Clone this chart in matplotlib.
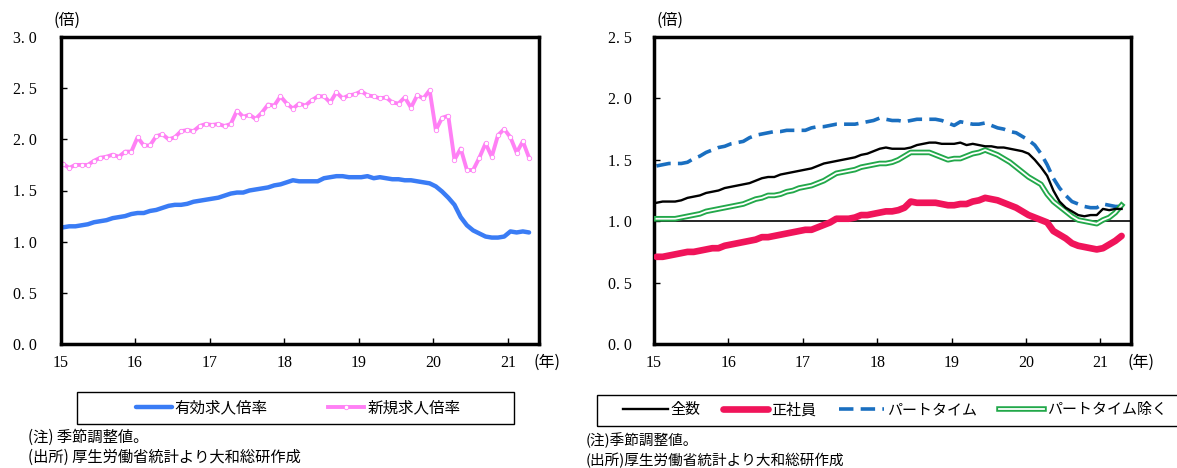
import numpy as np
import pandas as pd
import matplotlib
matplotlib.use('Agg')
import matplotlib.pyplot as plt
import matplotlib.patheffects as pe
from matplotlib.patches import Rectangle

# 月次データ 2015年1月～2021年4月 (季節調整値)
months = pd.date_range('2015-01-01', periods=76, freq='MS')

yuko = [1.14, 1.15, 1.15, 1.16, 1.17, 1.19, 1.20, 1.21, 1.23, 1.24, 1.25, 1.27,
        1.28, 1.28, 1.30, 1.31, 1.33, 1.35, 1.36, 1.36, 1.37, 1.39, 1.40, 1.41,
        1.42, 1.43, 1.45, 1.47, 1.48, 1.48, 1.50, 1.51, 1.52, 1.53, 1.55, 1.56,
        1.58, 1.60, 1.59, 1.59, 1.59, 1.59, 1.62, 1.63, 1.64, 1.64, 1.63, 1.63,
        1.63, 1.64, 1.62, 1.63, 1.62, 1.61, 1.61, 1.60, 1.60, 1.59, 1.58, 1.57,
        1.54, 1.49, 1.43, 1.36, 1.24, 1.16, 1.11, 1.08, 1.05, 1.04, 1.04, 1.05,
        1.10, 1.09, 1.10, 1.09]

shinki = [1.76, 1.72, 1.75, 1.75, 1.75, 1.79, 1.82, 1.83, 1.85, 1.83, 1.88, 1.88,
          2.02, 1.94, 1.94, 2.03, 2.05, 2.00, 2.02, 2.08, 2.09, 2.08, 2.13, 2.15,
          2.14, 2.15, 2.13, 2.15, 2.28, 2.22, 2.24, 2.20, 2.26, 2.34, 2.33, 2.42,
          2.35, 2.30, 2.35, 2.33, 2.38, 2.42, 2.42, 2.36, 2.46, 2.40, 2.43, 2.44,
          2.47, 2.43, 2.42, 2.40, 2.41, 2.36, 2.35, 2.41, 2.31, 2.43, 2.40, 2.48,
          2.09, 2.21, 2.23, 1.80, 1.91, 1.70, 1.70, 1.82, 1.96, 1.83, 2.04, 2.10,
          2.02, 1.87, 1.98, 1.82]

zensu = [1.15, 1.16, 1.16, 1.16, 1.17, 1.19, 1.20, 1.21, 1.23, 1.24, 1.25, 1.27,
         1.28, 1.29, 1.30, 1.31, 1.33, 1.35, 1.36, 1.36, 1.38, 1.39, 1.40, 1.41,
         1.42, 1.43, 1.45, 1.47, 1.48, 1.49, 1.50, 1.51, 1.52, 1.54, 1.55, 1.57,
         1.59, 1.60, 1.59, 1.59, 1.59, 1.60, 1.62, 1.63, 1.64, 1.64, 1.63, 1.63,
         1.63, 1.64, 1.62, 1.63, 1.62, 1.61, 1.61, 1.60, 1.60, 1.59, 1.58, 1.57,
         1.55, 1.50, 1.44, 1.37, 1.25, 1.16, 1.11, 1.08, 1.05, 1.04, 1.05, 1.05,
         1.10, 1.09, 1.10, 1.10]

seishain = [0.71, 0.71, 0.72, 0.73, 0.74, 0.75, 0.75, 0.76, 0.77, 0.78, 0.78, 0.80,
            0.81, 0.82, 0.83, 0.84, 0.85, 0.87, 0.87, 0.88, 0.89, 0.90, 0.91, 0.92,
            0.93, 0.93, 0.95, 0.97, 0.99, 1.02, 1.02, 1.02, 1.03, 1.05, 1.05, 1.06,
            1.07, 1.08, 1.08, 1.09, 1.11, 1.16, 1.15, 1.15, 1.15, 1.15, 1.14, 1.13,
            1.13, 1.14, 1.14, 1.16, 1.17, 1.19, 1.18, 1.17, 1.15, 1.13, 1.11, 1.08,
            1.05, 1.03, 1.01, 0.99, 0.92, 0.89, 0.86, 0.82, 0.80, 0.79, 0.78, 0.77,
            0.78, 0.81, 0.84, 0.88]

part = [1.45, 1.46, 1.47, 1.47, 1.47, 1.48, 1.51, 1.53, 1.56, 1.58, 1.60, 1.61,
        1.63, 1.64, 1.65, 1.68, 1.70, 1.71, 1.72, 1.73, 1.73, 1.74, 1.74, 1.74,
        1.74, 1.76, 1.77, 1.77, 1.78, 1.79, 1.79, 1.79, 1.79, 1.80, 1.81, 1.82,
        1.84, 1.83, 1.82, 1.82, 1.81, 1.82, 1.83, 1.83, 1.83, 1.83, 1.82, 1.80,
        1.78, 1.81, 1.80, 1.79, 1.79, 1.80, 1.78, 1.76, 1.75, 1.73, 1.72, 1.69,
        1.66, 1.62, 1.55, 1.46, 1.35, 1.27, 1.21, 1.16, 1.14, 1.12, 1.11, 1.11,
        1.14, 1.13, 1.12, 1.12]

part_nozoku = [1.02, 1.02, 1.02, 1.02, 1.03, 1.04, 1.05, 1.06, 1.08, 1.09, 1.10, 1.11,
               1.12, 1.13, 1.14, 1.16, 1.18, 1.19, 1.21, 1.21, 1.22, 1.24, 1.25, 1.27,
               1.28, 1.29, 1.31, 1.33, 1.36, 1.39, 1.40, 1.41, 1.42, 1.44, 1.45, 1.46,
               1.47, 1.47, 1.48, 1.50, 1.53, 1.56, 1.56, 1.56, 1.56, 1.54, 1.52, 1.50,
               1.51, 1.51, 1.53, 1.55, 1.56, 1.58, 1.56, 1.54, 1.51, 1.48, 1.44, 1.40,
               1.36, 1.33, 1.30, 1.22, 1.16, 1.12, 1.08, 1.04, 1.01, 1.00, 0.99, 0.98,
               1.01, 1.03, 1.07, 1.13]

year_ticks = [15, 16, 17, 18, 19, 20, 21]

# x軸は2015年1月からの経過年数
x = (months.year - 2015) + (months.month - 1 + 0.4) / 12

W, H = 1177, 468
fig = plt.figure(figsize=(W / 100, H / 100), dpi=100)

jp = ['Noto Sans CJK JP', 'DejaVu Sans']
num_font = ['Liberation Serif', 'Noto Sans CJK JP']


def px(xp, yp):
    return xp / W, 1 - yp / H


def setup_axes(ax, ymax, ypad):
    ax.set_xlim(0, 6.41)
    ax.set_ylim(0, ymax)
    ax.set_xticks(np.array(year_ticks) - 15)
    ax.set_xticklabels([str(y) for y in year_ticks], family=num_font, fontsize=11.5)
    yt = np.arange(0, ymax + 0.01, 0.5)
    ax.set_yticks(yt)
    ax.set_yticklabels(['%.0f. %.0f' % (int(v), round((v % 1) * 10)) for v in yt],
                       family=num_font, fontsize=11.5)
    ax.tick_params(axis='y', direction='in', length=4, width=1, pad=ypad)
    ax.tick_params(axis='x', direction='in', length=4, width=1, pad=8)
    for s in ax.spines.values():
        s.set_linewidth(2.5)
        s.set_color('black')


# 左：有効求人倍率・新規求人倍率
ax1 = fig.add_axes([60.5 / W, 1 - 344 / H, 478 / W, 307 / H])
setup_axes(ax1, 3.0, 17)
l_yuko, = ax1.plot(x, yuko, color='#3a7cf5', lw=3.2, solid_capstyle='round')
l_shinki, = ax1.plot(x, shinki, color='#ff80f5', lw=2.8, marker='o', ms=3.2,
                     mfc='white', mec='#ff80f5', mew=0.6)

# 右：全数・正社員・パートタイム・パートタイム除く
ax2 = fig.add_axes([654 / W, 1 - 344 / H, 477 / W, 307 / H])
setup_axes(ax2, 2.5, 16)
ax2.axhline(1.0, color='black', lw=1.2, zorder=1)
l_part, = ax2.plot(x, part, color='#1a6fc0', lw=2.6, dashes=(4, 2), zorder=2)
# 二重線（緑の縁取り＋白の中線）
l_nz, = ax2.plot(x, part_nozoku, color='white', lw=1.3, zorder=3,
                 path_effects=[pe.Stroke(linewidth=4.0, foreground='#22a84a'), pe.Normal()])
l_zensu, = ax2.plot(x, zensu, color='black', lw=1.7, zorder=4)
l_sei, = ax2.plot(x, seishain, color='#f0145a', lw=4.8, solid_capstyle='round', zorder=5)

# 単位ラベル
for xp, yp, t in [(67, 20, '(倍)'), (670, 20, '(倍)'), (547, 362, '(年)'), (1141, 362, '(年)')]:
    fig.text(*px(xp, yp), t, family=jp, fontsize=11.5, ha='center', va='center')

# 凡例（枠は別に描く）
fig.patches.append(Rectangle(px(77, 424), 437 / W, 32 / H, transform=fig.transFigure,
                             fill=False, ec='black', lw=1.0))
fig.patches.append(Rectangle(px(597, 426), 600 / W, 31 / H, transform=fig.transFigure,
                             fill=False, ec='black', lw=1.0, clip_on=False))

fig.legend([l_yuko, l_shinki], ['有効求人倍率', '新規求人倍率'], loc='center',
           bbox_to_anchor=px(298, 408), ncol=2, frameon=False,
           prop={'family': jp, 'size': 11.2}, handlelength=2.3, handletextpad=0.2,
           columnspacing=3.9)

fig.legend([l_zensu, l_sei, l_part, l_nz], ['全数', '正社員', 'パートタイム', 'パートタイム除く'],
           loc='center', bbox_to_anchor=px(895, 410), ncol=4, frameon=False,
           prop={'family': jp, 'size': 10.8}, handlelength=3.0, handletextpad=0.2,
           columnspacing=1.5)

# 注記
fig.text(*px(28, 437), '(注) 季節調整値。', family=jp, fontsize=11, va='center')
fig.text(*px(28, 457), '(出所) 厚生労働省統計より大和総研作成', family=jp, fontsize=11, va='center')
fig.text(*px(586, 440), '(注)季節調整値。', family=jp, fontsize=10.5, va='center')
fig.text(*px(586, 460), '(出所)厚生労働省統計より大和総研作成', family=jp, fontsize=10.5, va='center')

fig.savefig('out.png', dpi=100)
